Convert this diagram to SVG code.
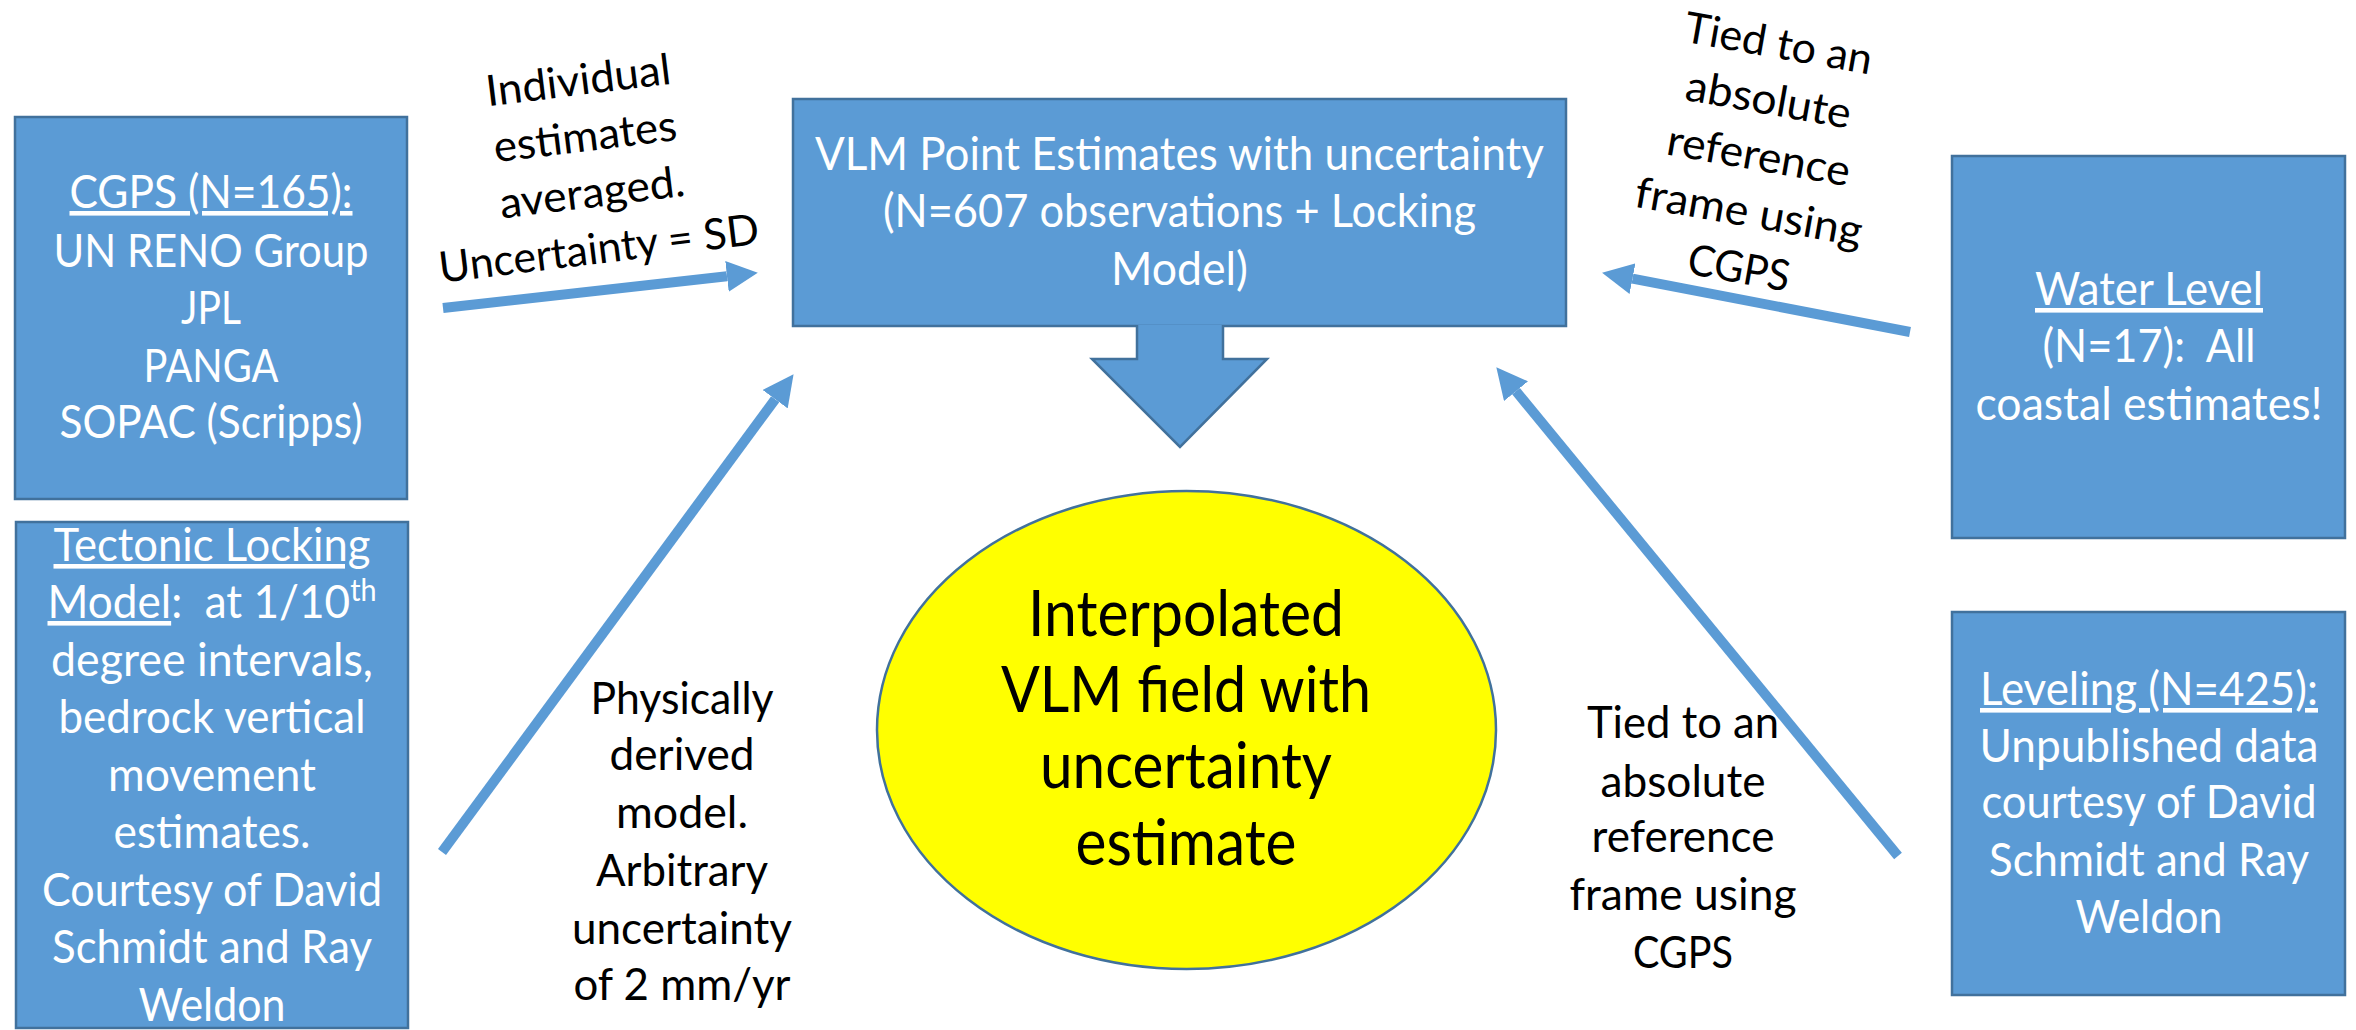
<svg xmlns="http://www.w3.org/2000/svg" width="2356" height="1030" viewBox="0 0 2356 1030">
<style>
.box{fill:#5B9BD5;stroke:#41719C;stroke-width:2.5}
.bt{font-family:Lato,"Liberation Sans",sans-serif;font-weight:400;font-size:46px;fill:#fff;text-anchor:middle}
.lbl{font-family:Lato,"Liberation Sans",sans-serif;font-size:43px;fill:#000;text-anchor:middle}
.lbl2{font-family:Lato,"Liberation Sans",sans-serif;font-size:44px;fill:#000;text-anchor:middle}
.et{font-family:Lato,"Liberation Sans",sans-serif;font-size:64px;fill:#000;text-anchor:middle}
.u{text-decoration:underline}
.conn{stroke:#5B9BD5;stroke-width:10;fill:none;marker-end:url(#ah)}
</style>
<defs>
<marker id="ah" markerUnits="userSpaceOnUse" viewBox="0 0 31 31" markerWidth="31" markerHeight="31" refX="0" refY="15.5" orient="auto">
<path d="M0,0 L31,15.5 L0,31 Z" fill="#5B9BD5"/>
</marker>
</defs>
<rect width="2356" height="1030" fill="#fff"/>

<g id="connectors">
<line class="conn" x1="443" y1="308" x2="727" y2="276.3"/>
<line class="conn" x1="1910" y1="332" x2="1632.5" y2="278.7"/>
<line class="conn" x1="442" y1="852" x2="775.2" y2="399.2"/>
<line class="conn" x1="1898" y1="856" x2="1516" y2="391.2"/>
</g>

<g id="cgps">
<rect class="box" x="15" y="117" width="392" height="382"/>
<text class="bt" x="211" y="208" textLength="283" lengthAdjust="spacingAndGlyphs"><tspan class="u">CGPS (N=165):</tspan></text>
<text class="bt" x="211" y="267" textLength="315" lengthAdjust="spacingAndGlyphs">UN RENO Group</text>
<text class="bt" x="211" y="324" textLength="60" lengthAdjust="spacingAndGlyphs">JPL</text>
<text class="bt" x="211" y="382" textLength="135" lengthAdjust="spacingAndGlyphs">PANGA</text>
<text class="bt" x="211" y="438" textLength="303" lengthAdjust="spacingAndGlyphs">SOPAC (Scripps)</text>
</g>

<g id="tectonic">
<rect class="box" x="16" y="522" width="392" height="506"/>
<text class="bt" x="212" y="561" textLength="317" lengthAdjust="spacingAndGlyphs"><tspan class="u">Tectonic Locking</tspan></text>
<text class="bt" x="212" y="618" xml:space="preserve" textLength="329" lengthAdjust="spacingAndGlyphs"><tspan class="u">Model</tspan>:  at 1/10<tspan font-size="30" dy="-17">th</tspan></text>
<text class="bt" x="212" y="676" textLength="322" lengthAdjust="spacingAndGlyphs">degree intervals,</text>
<text class="bt" x="212" y="733" textLength="307" lengthAdjust="spacingAndGlyphs">bedrock vertical</text>
<text class="bt" x="212" y="791" textLength="208" lengthAdjust="spacingAndGlyphs">movement</text>
<text class="bt" x="212" y="848" textLength="197" lengthAdjust="spacingAndGlyphs">estimates.</text>
<text class="bt" x="212" y="906" textLength="340" lengthAdjust="spacingAndGlyphs">Courtesy of David</text>
<text class="bt" x="212" y="963" textLength="320" lengthAdjust="spacingAndGlyphs">Schmidt and Ray</text>
<text class="bt" x="212" y="1021" textLength="147" lengthAdjust="spacingAndGlyphs">Weldon</text>
</g>

<g id="vlm-points">
<rect class="box" x="793" y="99" width="773" height="227"/>
<text class="bt" font-size="45" x="1179.5" y="170" textLength="729" lengthAdjust="spacingAndGlyphs">VLM Point Estimates with uncertainty</text>
<text class="bt" font-size="45" x="1179.5" y="227" textLength="593" lengthAdjust="spacingAndGlyphs">(N=607 observations + Locking</text>
<text class="bt" font-size="45" x="1179.5" y="285" textLength="137" lengthAdjust="spacingAndGlyphs">Model)</text>
</g>

<g id="down-arrow">
<path d="M1137,325 V359 H1092 L1180,447 L1267,359 H1223 V325" fill="#5B9BD5" stroke="#41719C" stroke-width="2.5"/>
</g>

<g id="water-level">
<rect class="box" x="1952" y="156" width="393" height="382"/>
<text class="bt" x="2149" y="305" textLength="228" lengthAdjust="spacingAndGlyphs"><tspan class="u">Water Level</tspan></text>
<text class="bt" x="2149" y="362" xml:space="preserve" textLength="213" lengthAdjust="spacingAndGlyphs">(N=17):  All</text>
<text class="bt" x="2149" y="420" textLength="347" lengthAdjust="spacingAndGlyphs">coastal estimates!</text>
</g>

<g id="leveling">
<rect class="box" x="1952" y="612" width="393" height="383"/>
<text class="bt" x="2149" y="705" textLength="338" lengthAdjust="spacingAndGlyphs"><tspan class="u">Leveling (N=425):</tspan></text>
<text class="bt" x="2149" y="762" textLength="339" lengthAdjust="spacingAndGlyphs">Unpublished data</text>
<text class="bt" x="2149" y="818" textLength="335" lengthAdjust="spacingAndGlyphs">courtesy of David</text>
<text class="bt" x="2149" y="876" textLength="320" lengthAdjust="spacingAndGlyphs">Schmidt and Ray</text>
<text class="bt" x="2149" y="933" textLength="147" lengthAdjust="spacingAndGlyphs">Weldon</text>
</g>

<g id="interpolated-field">
<ellipse cx="1186.5" cy="730" rx="309.5" ry="239" fill="#FFFF00" stroke="#41719C" stroke-width="2.5"/>
<text class="et" x="1186" y="636" textLength="316" lengthAdjust="spacingAndGlyphs">Interpolated</text>
<text class="et" x="1186" y="712" textLength="370" lengthAdjust="spacingAndGlyphs">VLM field with</text>
<text class="et" x="1186" y="788" textLength="292" lengthAdjust="spacingAndGlyphs">uncertainty</text>
<text class="et" x="1186" y="865" textLength="221" lengthAdjust="spacingAndGlyphs">estimate</text>
</g>

<g id="connector-labels">
<g transform="translate(580,95) rotate(-7)">
<text class="lbl" x="0" y="0" textLength="186" lengthAdjust="spacingAndGlyphs">Individual</text>
<text class="lbl" x="0" y="56.5" textLength="184" lengthAdjust="spacingAndGlyphs">estimates</text>
<text class="lbl" x="0" y="113" textLength="186" lengthAdjust="spacingAndGlyphs">averaged.</text>
<text class="lbl" x="0" y="169.5" textLength="322" lengthAdjust="spacingAndGlyphs">Uncertainty = SD</text>
</g>
<g transform="translate(1776,58) rotate(10)">
<text class="lbl" x="0" y="0" textLength="190" lengthAdjust="spacingAndGlyphs">Tied to an</text>
<text class="lbl" x="0" y="57" textLength="167" lengthAdjust="spacingAndGlyphs">absolute</text>
<text class="lbl" x="0" y="114" textLength="185" lengthAdjust="spacingAndGlyphs">reference</text>
<text class="lbl" x="0" y="171" textLength="230" lengthAdjust="spacingAndGlyphs">frame using</text>
<text class="lbl" x="0" y="228" textLength="103" lengthAdjust="spacingAndGlyphs">CGPS</text>
</g>
<text class="lbl2" x="682" y="714" textLength="183" lengthAdjust="spacingAndGlyphs">Physically</text>
<text class="lbl2" x="682" y="770" textLength="145" lengthAdjust="spacingAndGlyphs">derived</text>
<text class="lbl2" x="682" y="828" textLength="132" lengthAdjust="spacingAndGlyphs">model.</text>
<text class="lbl2" x="682" y="886" textLength="172" lengthAdjust="spacingAndGlyphs">Arbitrary</text>
<text class="lbl2" x="682" y="944" textLength="220" lengthAdjust="spacingAndGlyphs">uncertainty</text>
<text class="lbl2" x="682" y="1000" textLength="217" lengthAdjust="spacingAndGlyphs">of 2 mm/yr</text>
<text class="lbl2" x="1683" y="738" textLength="192" lengthAdjust="spacingAndGlyphs">Tied to an</text>
<text class="lbl2" x="1683" y="797" textLength="165" lengthAdjust="spacingAndGlyphs">absolute</text>
<text class="lbl2" x="1683" y="852" textLength="183" lengthAdjust="spacingAndGlyphs">reference</text>
<text class="lbl2" x="1683" y="910" textLength="227" lengthAdjust="spacingAndGlyphs">frame using</text>
<text class="lbl2" x="1683" y="968" textLength="100" lengthAdjust="spacingAndGlyphs">CGPS</text>
</g>
</svg>
